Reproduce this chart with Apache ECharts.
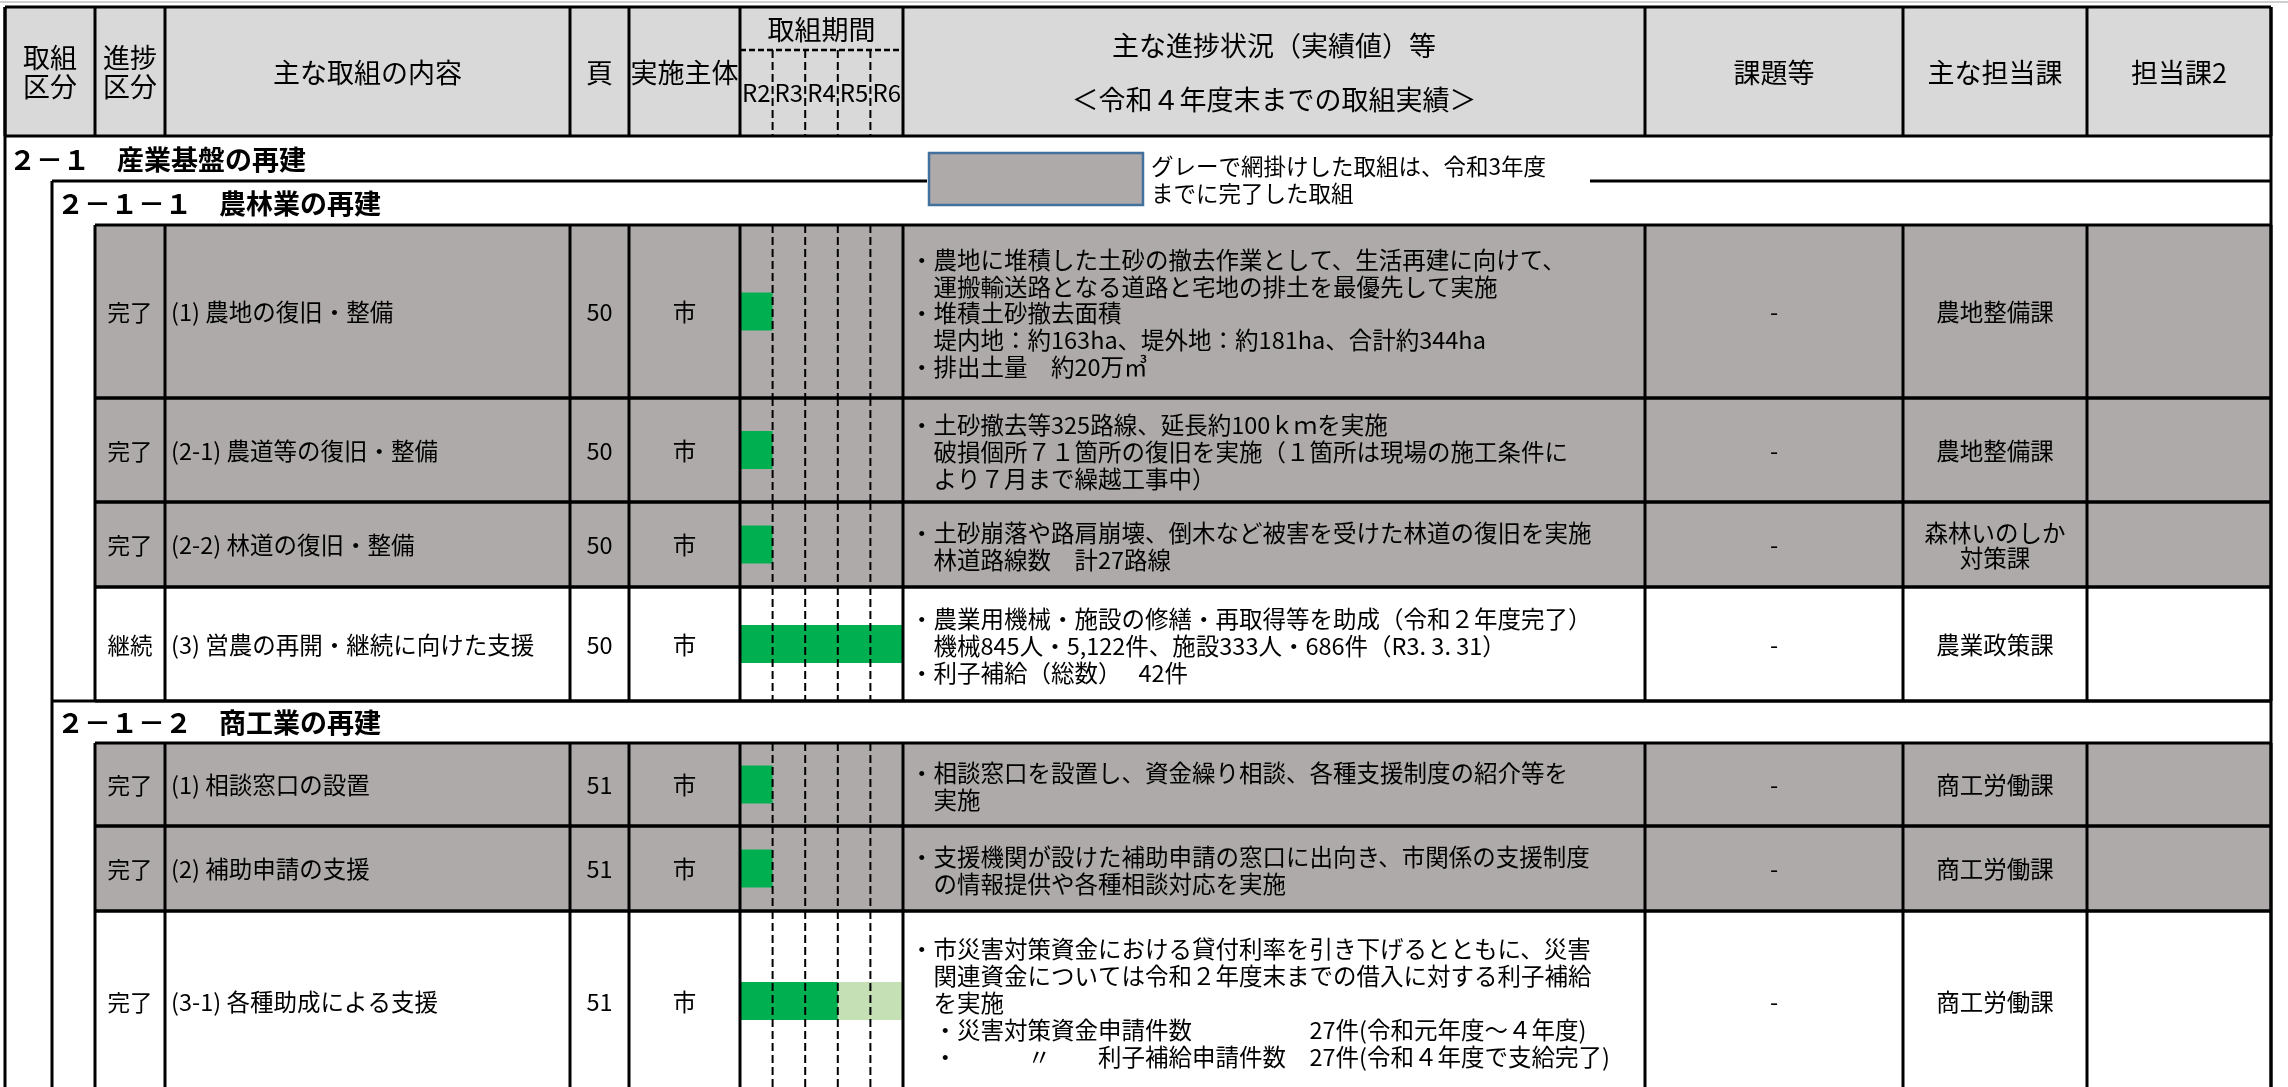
<!DOCTYPE html>
<html>
<head>
<meta charset="utf-8">
<script src="https://cdn.jsdelivr.net/npm/echarts@6/dist/echarts.min.js"></script>
<style>html,body{margin:0;padding:0;background:#fff;}#main{width:2288px;height:1087px;}</style>
</head>
<body>
<div id="main"></div>
<script>
// ================= DATA =================
const HEADERS = ['取組\n区分', '進捗\n区分', '主な取組の内容', '頁', '実施主体',
  '主な進捗状況（実績値）等\n\n＜令和４年度末までの取組実績＞', '課題等', '主な担当課', '担当課2'];
const PERIOD_HEADER = '取組期間';
const YEARS = ['R2', 'R3', 'R4', 'R5', 'R6'];
const SECTION_TITLES = ['２－１　産業基盤の再建', '２－１－１　農林業の再建', '２－１－２　商工業の再建'];
const LEGEND_TEXT = 'グレーで網掛けした取組は、令和3年度\nまでに完了した取組';

const STATUS = ['完了', '完了', '完了', '継続', '完了', '完了', '完了'];
const TITLES = ['(1) 農地の復旧・整備', '(2-1) 農道等の復旧・整備', '(2-2) 林道の復旧・整備',
  '(3) 営農の再開・継続に向けた支援', '(1) 相談窓口の設置', '(2) 補助申請の支援', '(3-1) 各種助成による支援'];
const PAGES = ['50', '50', '50', '50', '51', '51', '51'];
const ACTORS = ['市', '市', '市', '市', '市', '市', '市'];
const DONE_FROM = ['R2', 'R2', 'R2', 'R2', 'R2', 'R2', 'R2'];
const DONE_TO = ['R2', 'R2', 'R2', 'R6', 'R2', 'R2', 'R4'];
const PLAN_FROM = [null, null, null, null, null, null, 'R5'];
const PLAN_TO = [null, null, null, null, null, null, 'R6'];
const COMPLETED_BY_R3 = [true, true, true, false, true, true, false];
const PROGRESS = [
  '・農地に堆積した土砂の撤去作業として、生活再建に向けて、\n　運搬輸送路となる道路と宅地の排土を最優先して実施\n・堆積土砂撤去面積\n　堤内地：約163ha、堤外地：約181ha、合計約344ha\n・排出土量　約20万㎥',
  '・土砂撤去等325路線、延長約100ｋｍを実施\n　破損個所７１箇所の復旧を実施（１箇所は現場の施工条件に\n　より７月まで繰越工事中）',
  '・土砂崩落や路肩崩壊、倒木など被害を受けた林道の復旧を実施\n　林道路線数　計27路線',
  '・農業用機械・施設の修繕・再取得等を助成（令和２年度完了）\n　機械845人・5,122件、施設333人・686件（R3. 3. 31）\n・利子補給（総数）　 42件',
  '・相談窓口を設置し、資金繰り相談、各種支援制度の紹介等を\n　実施',
  '・支援機関が設けた補助申請の窓口に出向き、市関係の支援制度\n　の情報提供や各種相談対応を実施',
  '・市災害対策資金における貸付利率を引き下げるとともに、災害\n　関連資金については令和２年度末までの借入に対する利子補給\n　を実施\n　・災害対策資金申請件数　　　　　27件(令和元年度～４年度)\n　・　　　〃　　利子補給申請件数　27件(令和４年度で支給完了)'
];
const ISSUES = ['-', '-', '-', '-', '-', '-', '-'];
const DEPTS = ['農地整備課', '農地整備課', '森林いのしか\n対策課', '農業政策課', '商工労働課', '商工労働課', '商工労働課'];
const DEPTS2 = ['', '', '', '', '', '', ''];

// order of table rows: section title (s) or data row (d)
const ROW_ORDER = [['s', 0], ['s', 1], ['d', 0], ['d', 1], ['d', 2], ['d', 3], ['s', 2], ['d', 4], ['d', 5], ['d', 6]];

// ================= LAYOUT =================
const W = 2288, H = 1087;
const FONT = '"Noto Sans CJK JP", "Noto Sans CJK SC", sans-serif';
const OUTER_L = 5, SEC_L = 52, ROW_L = 95, RIGHT = 2271;
const COL_X = [95, 165, 570, 629, 740, 903, 1645, 1903, 2087, 2271];
const HEADER_SPANS = [[5, 95], [95, 165], [165, 570], [570, 629], [629, 740], [903, 1645], [1645, 1903], [1903, 2087], [2087, 2271]];
const HEADER_TOP = 7, HEADER_MID = 50, HEADER_BOTTOM = 136;
const ROW_H = [45, 44, 173, 104, 85, 114, 42, 83, 85, 180];
const LEGEND_BOX = [929, 153, 1143, 205];
const LEGEND_GAP = [927, 1590];
const BAR_H = 38;
const HEADER_FILL = '#D9D9D9', GRAY_FILL = '#AEAAAA', DONE_COLOR = '#00B050', PLAN_COLOR = '#C5E0B4';
const LW = 3;

const rowTops = [];
(function () { let y = HEADER_BOTTOM; ROW_H.forEach(h => { rowTops.push(y); y += h; }); })();

// ================= RENDER =================
function T(p, text, opt) {
  return {
    type: 'text', silent: true,
    style: Object.assign({
      text: text, x: p[0], y: p[1], fill: '#000', fontFamily: FONT, fontSize: 23.5,
      align: 'center', verticalAlign: 'middle'
    }, opt || {})
  };
}
function L(a, b, opt) {
  return {
    type: 'line', silent: true,
    shape: { x1: a[0], y1: a[1], x2: b[0], y2: b[1] },
    style: Object.assign({ stroke: '#000', lineWidth: LW }, opt || {})
  };
}
function R(a, b, fill, opt) {
  return {
    type: 'rect', silent: true,
    shape: { x: a[0], y: a[1], width: b[0] - a[0], height: b[1] - a[1] },
    style: Object.assign({ fill: fill }, opt || {})
  };
}

function bgRender(params, api) {
  const P = (x, y) => api.coord([x, y]);
  const i = params.dataIndex;
  if (i === 0) return R(P(OUTER_L, HEADER_TOP), P(RIGHT, HEADER_BOTTOM), HEADER_FILL);
  const r = ROW_ORDER[i - 1];
  if (r[0] !== 'd') return { type: 'group', children: [] };
  const top = rowTops[i - 1], bot = top + ROW_H[i - 1];
  return R(P(ROW_L, top), P(RIGHT, bot), COMPLETED_BY_R3[r[1]] ? GRAY_FILL : '#fff');
}

function fgRender(params, api) {
  const P = (x, y) => api.coord([x, y]);
  const i = params.dataIndex;
  const ch = [];
  if (i === 0) {
    // header
    ch.push(L(P(0, 2), P(W, 2), { stroke: '#cfcfcf', lineWidth: 2 }));
    ch.push(L(P(OUTER_L, HEADER_TOP), P(RIGHT, HEADER_TOP)));
    ch.push(L(P(OUTER_L, HEADER_BOTTOM), P(RIGHT, HEADER_BOTTOM)));
    [OUTER_L].concat(COL_X).forEach(x => ch.push(L(P(x, HEADER_TOP), P(x, HEADER_BOTTOM))));
    HEADERS.forEach((h, k) => {
      const s = HEADER_SPANS[k];
      const lh = h.indexOf('\n\n') >= 0 ? 27 : 29;
      ch.push(T(P((s[0] + s[1]) / 2, (HEADER_TOP + HEADER_BOTTOM) / 2 + 1), h, { fontSize: 27, lineHeight: lh }));
    });
    ch.push(T(P((COL_X[4] + COL_X[5]) / 2, (HEADER_TOP + HEADER_MID) / 2 + 1), PERIOD_HEADER, { fontSize: 27 }));
    // outer frame lines
    ch.push(L(P(OUTER_L, HEADER_TOP), P(OUTER_L, H + 5)));
    ch.push(L(P(RIGHT, HEADER_TOP), P(RIGHT, H + 5)));
    ch.push(L(P(SEC_L, rowTops[1]), P(SEC_L, H + 5)));
    return { type: 'group', children: ch };
  }
  const r = ROW_ORDER[i - 1];
  const top = rowTops[i - 1], bot = top + ROW_H[i - 1], mid = (top + bot) / 2;
  if (r[0] === 's') {
    const k = r[1];
    const tx = k === 0 ? 9 : 57;
    ch.push(T(P(tx, mid + 1), SECTION_TITLES[k], { align: 'left', fontSize: 27, fontWeight: 'bold' }));
    if (k === 1) {
      ch.push(L(P(SEC_L, top), P(LEGEND_GAP[0], top)));
      ch.push(L(P(LEGEND_GAP[1], top), P(RIGHT, top)));
      ch.push(R(P(LEGEND_BOX[0], LEGEND_BOX[1]), P(LEGEND_BOX[2], LEGEND_BOX[3]), GRAY_FILL,
        { stroke: '#41719C', lineWidth: 2.5 }));
      ch.push(T(P(LEGEND_BOX[2] + 8, (LEGEND_BOX[1] + LEGEND_BOX[3]) / 2 + 1), LEGEND_TEXT,
        { align: 'left', fontSize: 22.5, lineHeight: 27 }));
    } else if (k === 2) {
      ch.push(L(P(SEC_L, top), P(RIGHT, top)));
    }
    return { type: 'group', children: ch };
  }
  const d = r[1];
  ch.push(L(P(ROW_L, top), P(RIGHT, top)));
  ch.push(L(P(ROW_L, bot), P(RIGHT, bot)));
  COL_X.forEach(x => ch.push(L(P(x, top), P(x, bot))));
  const cx = k => (COL_X[k] + COL_X[k + 1]) / 2;
  ch.push(T(P(cx(0), mid + 1), STATUS[d], { fontSize: 22.5 }));
  ch.push(T(P(COL_X[1] + 6, mid + 1), TITLES[d], { align: 'left' }));
  ch.push(T(P(cx(2), mid + 1), PAGES[d]));
  ch.push(T(P(cx(3), mid + 1), ACTORS[d]));
  ch.push(T(P(COL_X[5] + 7, mid + 2), PROGRESS[d], { align: 'left', lineHeight: 26.8 }));
  ch.push(T(P(cx(6), mid + 1), ISSUES[d]));
  ch.push(T(P(cx(7), mid + 1), DEPTS[d], { lineHeight: 25 }));
  ch.push(T(P(cx(8), mid + 1), DEPTS2[d]));
  return { type: 'group', children: ch };
}

function ganttRender(params, api) {
  const f = api.value(0), t = api.value(1), pf = api.value(2), pt = api.value(3);
  const top = api.value(4), bot = api.value(5), kind = api.value(6);
  const bw = api.size([1, 0])[0];
  const yTop = api.coord([0, top])[1], yBot = api.coord([0, bot])[1];
  const yMid = (yTop + yBot) / 2;
  const ch = [];
  const left = k => api.coord([k, top])[0] - bw / 2;
  const right = k => api.coord([k, top])[0] + bw / 2;
  if (kind === 1) {
    if (pf >= 0) ch.push(R([left(pf), yMid - BAR_H / 2], [right(pt), yMid + BAR_H / 2], PLAN_COLOR));
    ch.push(R([left(f), yMid - BAR_H / 2], [right(t), yMid + BAR_H / 2], DONE_COLOR));
  } else {
    ch.push(L([left(0), yTop], [right(YEARS.length - 1), yTop], { lineWidth: 2.5, lineDash: [6, 3] }));
  }
  for (let k = 1; k < YEARS.length; k++) {
    const x = left(k);
    ch.push(L([x, yTop], [x, yBot], { lineWidth: 2, lineDash: [8, 4] }));
  }
  return { type: 'group', children: ch };
}

// ================= BUILD =================
const tableItems = [[0, 0]].concat(ROW_ORDER.map((r, i) => [i + 1, 0]));
const ganttItems = [[0, 0, -1, -1, HEADER_MID, HEADER_BOTTOM, 0]];
ROW_ORDER.forEach((r, i) => {
  if (r[0] !== 'd') return;
  const d = r[1];
  ganttItems.push([
    YEARS.indexOf(DONE_FROM[d]), YEARS.indexOf(DONE_TO[d]),
    PLAN_FROM[d] ? YEARS.indexOf(PLAN_FROM[d]) : -1, PLAN_TO[d] ? YEARS.indexOf(PLAN_TO[d]) : -1,
    rowTops[i], rowTops[i] + ROW_H[i], 1
  ]);
});

const chart = echarts.init(document.getElementById('main'), null, { renderer: 'canvas', width: W, height: H });
chart.setOption({
  animation: false,
  backgroundColor: '#fff',
  grid: [
    { left: 0, top: 0, width: W, height: H },
    { left: COL_X[4], top: HEADER_MID, width: COL_X[5] - COL_X[4], height: H - HEADER_MID }
  ],
  xAxis: [
    { type: 'value', gridIndex: 0, min: 0, max: W, show: false },
    {
      type: 'category', gridIndex: 1, data: YEARS, position: 'top', z: 10, boundaryGap: true,
      axisLine: { show: false }, axisTick: { show: false }, splitLine: { show: false },
      axisLabel: { inside: true, margin: 43, verticalAlign: 'middle', interval: 0, fontSize: 24, color: '#000', fontFamily: FONT }
    }
  ],
  yAxis: [
    { type: 'value', gridIndex: 0, min: 0, max: H, inverse: true, show: false },
    { type: 'value', gridIndex: 1, min: HEADER_MID, max: H, inverse: true, show: false }
  ],
  series: [
    { type: 'custom', name: 'cells', xAxisIndex: 0, yAxisIndex: 0, z: 1, silent: true, renderItem: bgRender, data: tableItems },
    { type: 'custom', name: 'period', xAxisIndex: 1, yAxisIndex: 1, z: 2, silent: true, renderItem: ganttRender,
      encode: { x: 0, y: 4 }, data: ganttItems },
    { type: 'custom', name: 'text', xAxisIndex: 0, yAxisIndex: 0, z: 3, silent: true, renderItem: fgRender, data: tableItems }
  ]
});
</script>
</body>
</html>
